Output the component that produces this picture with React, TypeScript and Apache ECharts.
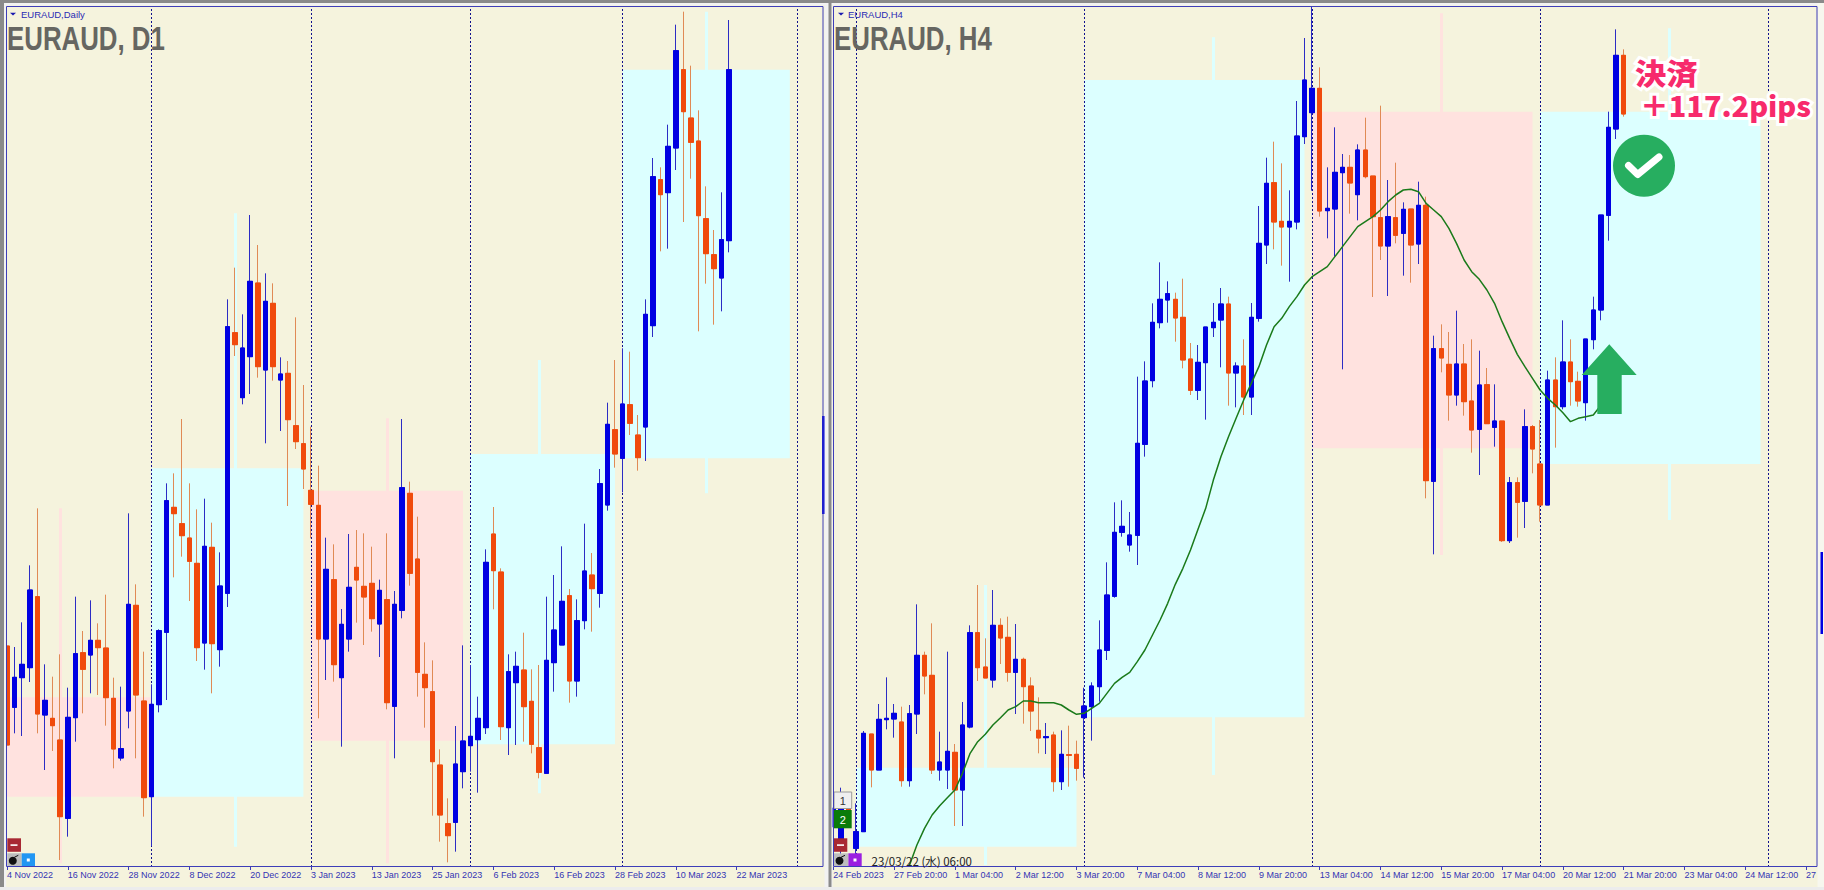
import React, { useEffect, useRef } from "react";
import * as echarts from "echarts";

// All prices are chart points above the lower edge of the window (no price scale is shown in the reference).
type Candle = [number, number, number, number]; // open, close, low, high

const d1TickLabels = ["4 Nov 2022","16 Nov 2022","28 Nov 2022","8 Dec 2022","20 Dec 2022","3 Jan 2023","13 Jan 2023","25 Jan 2023","6 Feb 2023","16 Feb 2023","28 Feb 2023","10 Mar 2023","22 Mar 2023"];
const h4TickLabels = ["24 Feb 2023","27 Feb 20:00","1 Mar 04:00","2 Mar 12:00","3 Mar 20:00","7 Mar 04:00","8 Mar 12:00","9 Mar 20:00","13 Mar 04:00","14 Mar 12:00","15 Mar 20:00","17 Mar 04:00","20 Mar 12:00","21 Mar 20:00","23 Mar 04:00","24 Mar 12:00","27 Mar 20:00"];

const d1Candles: Candle[] = [
[663,366,86,716],[479,569,401,660],[568,608,393,734],[598,831,555,905],[811,459,401,1076],[456,500,291,608],[446,424,348,571],[381,151,21,638],[146,449,91,538],[448,640,376,811],
[643,593,461,708],[636,680,521,800],[680,658,516,731],[657,508,424,817],[506,354,296,568],[327,355,319,541],[468,788,416,1061],[785,516,326,848],[498,208,151,646],[211,488,63,548],
[487,709,464,713],[704,1099,501,1151],[1079,1060,869,1181],[1030,994,931,1344],[987,917,798,1151],[911,658,618,1073],[672,962,592,1105],[959,670,521,1033],[652,843,601,944],[821,1621,780,1703],
[1603,1567,1533,1798],[1408,1557,1388,1658],[1531,1757,1419,1956],[1752,1501,1468,1866],[1491,1697,1271,1781],[1691,1501,1459,1751],[1461,1479,1308,1529],[1481,1342,1083,1518],[1324,1276,1254,1649],[1270,1194,1134,1446],
[1130,1088,986,1321],[1085,684,446,1204],[684,893,561,988],[862,607,556,968],[568,728,361,774],[684,839,646,999],[899,861,733,1011],[842,810,666,1001],[851,745,706,961],[729,830,630,862],
[802,493,473,1001],[482,788,326,828],[770,1138,746,1344],[1121,881,844,1156],[924,584,511,1051],[578,538,418,674],[526,316,154,620],[306,156,76,353],[130,94,14,206],[134,309,46,423],
[286,378,236,665],[364,392,286,606],[382,446,223,511],[418,914,399,953],[999,889,773,1080],[885,421,381,896],[418,586,336,638],[553,602,366,646],[591,481,376,703],[497,368,341,593],
[358,284,266,606],[281,620,281,811],[613,711,526,876],[666,797,666,962],[814,558,493,834],[558,739,511,803],[739,888,713,1030],[876,835,706,942],[821,1150,778,1194],[1086,1328,1069,1393],
[1312,1239,1198,1521],[1226,1389,1124,1556],[1387,1331,1296,1546],[1296,1228,1189,1356],[1320,1658,1218,1703],[1624,2071,1590,2127],[2062,2017,1847,2099],[2023,2162,1855,2227],[2157,2449,2091,2527],[2392,2266,1935,2566],
[2247,2174,2065,2404],[2178,1954,1607,2270],[1945,1840,1750,2042],[1837,1795,1627,1911],[1767,1882,1667,2024],[1879,2392,1844,2541],
];

const h4Candles: Candle[] = [
[121,176,88,221],[51,206,6,238],[206,136,121,221],[56,106,4,191],[106,401,106,408],[399,291,239,399],[291,443,291,489],[442,446,413,569],[444,461,388,489],[435,259,241,481],
[259,460,241,486],[459,635,399,788],[635,573,518,646],[575,291,279,731],[291,315,259,406],[291,347,234,646],[344,231,123,369],[231,426,123,495],[420,703,416,725],[703,598,558,846],
[600,567,567,686],[561,725,538,831],[725,687,609,746],[689,584,556,751],[584,623,459,729],[623,541,430,628],[543,468,408,569],[410,387,341,509],[388,391,339,432],[396,256,226,406],
[256,338,231,410],[337,335,241,424],[338,296,259,379],[448,483,268,538],[481,543,379,554],[541,651,496,740],[650,816,621,914],[812,1004,808,1094],[1004,1022,991,1100],[966,996,946,1065],
[995,1271,906,1471],[1268,1458,1231,1517],[1459,1634,1439,1691],[1633,1703,1616,1814],[1701,1720,1633,1757],[1703,1647,1576,1723],[1649,1521,1496,1765],[1524,1430,1416,1572],[1430,1514,1401,1566],[1513,1620,1342,1620],
[1618,1634,1590,1692],[1641,1689,1499,1737],[1689,1482,1384,1711],[1482,1503,1379,1514],[1503,1410,1356,1583],[1410,1649,1356,1692],[1646,1871,1636,1983],[1866,2051,1809,2128],[2053,1935,1853,2176],[1937,1920,1804,2111],
[1920,1937,1756,2030],[1935,2193,1913,2298],[2191,2361,2169,2487],[2263,2336,2029,2581],[2336,1968,1951,2399],[1969,1976,1886,2099],[1974,2084,1831,2219],[2083,2099,1493,2139],[2099,2052,1960,2136],[2017,2151,1940,2168],
[2151,2071,2066,2248],[2073,1951,1710,2073],[1948,1863,1821,2284],[1863,1951,1713,2061],[1948,1895,1871,2113],[1901,1973,1774,1994],[1974,1866,1753,1974],[1869,1985,1809,2056],[1985,1159,1106,2011],[1157,1555,938,1594],
[1555,1527,1484,1628],[1508,1416,1339,1605],[1416,1509,1384,1669],[1509,1396,1354,1569],[1398,1311,1243,1583],[1313,1446,1176,1549],[1447,1330,1330,1497],[1319,1338,1261,1448],[1338,979,975,1338],[979,1153,972,1170],
[1153,1094,988,1169],[1097,1321,1017,1373],[1321,1254,1181,1326],[1209,1086,1036,1341],[1086,1461,1086,1489],[1461,1381,1258,1529],[1381,1515,1373,1640],[1515,1456,1384,1583],[1457,1398,1381,1486],[1393,1584,1339,1584],
[1582,1671,1553,1711],[1671,1956,1640,1956],[1955,2219,1879,2266],[2214,2435,2184,2513],[2435,2259,2251,2453],
];

const h4Ma: (number | null)[] = [
null,null,null,null,null,null,null,null,null,null,
4,66,116,156,184,208,231,281,341,376,
398,426,448,471,481,498,498,493,493,493,
486,471,458,461,476,491,521,551,569,584,
616,651,696,741,791,848,896,951,1014,1076,
1160,1231,1291,1346,1401,1451,1501,1566,1621,1646,
1681,1711,1746,1771,1786,1801,1831,1861,1891,1921,
1936,1951,1971,1996,2016,2031,2033,2026,1991,1971,
1951,1916,1871,1821,1786,1763,1731,1691,1636,1586,
1538,1501,1466,1431,1406,1386,1363,1336,1346,1351,
1356,1385,
];

// Period separators (bar index)
const d1Separators = [19, 40, 61, 81, 104];
const h4Separators = [3, 33, 63, 93, 123];

// Higher time-frame candles behind the price: bar span, body, wick
const d1BlockStart = [0, 19, 40, 61, 81];
const d1BlockEnd = [19, 39, 60, 80, 103];
const d1BlockLow = [211, 211, 379, 368, 1226];
const d1BlockHigh = [509, 1196, 1129, 1239, 2392];
const d1BlockWickAt = [7, 30, 50, 70, 92];
const d1BlockWickLow = [11, 61, 11, 221, 1121];
const d1BlockWickHigh = [1076, 1961, 1346, 1521, 2566];
const d1BlockRising = [false, true, false, true, true];

const h4BlockStart = [3, 33, 63, 93];
const h4BlockEnd = [32, 62, 92, 122];
const h4BlockLow = [61, 449, 1256, 1209];
const h4BlockHigh = [298, 2361, 2266, 2266];
const h4BlockWickAt = [20, 50, 80, 110];
const h4BlockWickLow = [6, 276, 936, 1041];
const h4BlockWickHigh = [846, 2489, 2561, 2516];
const h4BlockRising = [true, true, false, true];

const CREAM = "#f5f3dd";
const CYAN = "#dcffff";
const PINK = "#ffe2df";
const BLUE = "#0000e2";
const ORANGE = "#f04a0c";
const BLUE_WICK = "#2c2cc4";
const ORANGE_WICK = "#e08a55";
const FRAME = "#3d3db8";
const STEP = 7.6;
const Y_MAX = 2580;
const D1_SLOTS = 108;
const H4_SLOTS = 130;

function categories(slots: number, labels: string[]) {
  return Array.from({ length: slots }, (_, i) => (i % 8 === 0 && labels[i / 8] ? labels[i / 8] : `#${i}`));
}

function makeXAxis(gridIndex: number, slots: number, labels: string[]) {
  const last = (labels.length - 1) * 8;
  const show = (i: number) => i % 8 === 0 && i <= last;
  return {
    type: "category" as const,
    gridIndex,
    data: categories(slots, labels),
    boundaryGap: false,
    axisLine: { show: false },
    axisTick: { show: true, length: 3, interval: show, lineStyle: { color: FRAME, width: 1 } },
    axisLabel: {
      show: true,
      interval: show,
      margin: 3,
      align: "left" as const,
      fontFamily: "Liberation Sans",
      fontSize: 9,
      color: "#3434b4",
    },
    splitLine: { show: false },
  };
}

function makeYAxis(gridIndex: number) {
  return { type: "value" as const, gridIndex, min: 0, max: Y_MAX, show: false, splitLine: { show: false } };
}

function backdropSeries(
  axis: number,
  start: number[],
  end: number[],
  low: number[],
  high: number[],
  wickAt: number[],
  wickLow: number[],
  wickHigh: number[],
  rising: boolean[],
) {
  const tone = (k: number) => (rising[k] ? CYAN : PINK);
  return {
    type: "line" as const,
    xAxisIndex: axis,
    yAxisIndex: axis,
    data: [],
    silent: true,
    z: 1,
    markArea: {
      silent: true,
      z: 1,
      emphasis: { disabled: true },
      label: { show: false },
      data: start.map((s, k) => [
        { coord: [s, low[k]], itemStyle: { color: tone(k), opacity: 1 } },
        { coord: [end[k], high[k]] },
      ]),
    },
    markLine: {
      silent: true,
      z: 1,
      symbol: "none",
      label: { show: false },
      emphasis: { disabled: true },
      data: wickAt.map((x, k) => [
        { coord: [x, wickLow[k]], lineStyle: { color: tone(k), width: 3, type: "solid", opacity: 1 } },
        { coord: [x, wickHigh[k]] },
      ]),
    },
  };
}

function separatorSeries(axis: number, positions: number[]) {
  return {
    type: "line" as const,
    xAxisIndex: axis,
    yAxisIndex: axis,
    data: [],
    silent: true,
    z: 2,
    markLine: {
      silent: true,
      z: 2,
      symbol: "none",
      label: { show: false },
      emphasis: { disabled: true },
      lineStyle: { color: "#10108c", width: 1, type: [2, 2], opacity: 1 },
      data: positions.map((x) => ({ xAxis: x })),
    },
  };
}

function candleSeries(axis: number, candles: Candle[]) {
  const bodies = candles.map(([o, c]) => [o, c, Math.min(o, c), Math.max(o, c)]);
  const base = {
    type: "candlestick" as const,
    xAxisIndex: axis,
    yAxisIndex: axis,
    barWidth: 5,
    silent: true,
    clip: true,
    emphasis: { disabled: true },
  };
  return [
    {
      ...base,
      z: 3,
      data: candles,
      itemStyle: {
        color: BLUE,
        color0: ORANGE,
        borderColor: BLUE_WICK,
        borderColor0: ORANGE_WICK,
        borderColorDoji: ORANGE_WICK,
        borderWidth: 1,
      },
    },
    {
      ...base,
      z: 4,
      data: bodies,
      itemStyle: { color: BLUE, color0: ORANGE, borderColor: BLUE, borderColor0: ORANGE, borderWidth: 1 },
    },
  ];
}

function square(x: number, y: number, w: number, h: number, fill: string, extra: object = {}) {
  return { type: "rect", z: 100, shape: { x, y, width: w, height: h }, style: { fill }, silent: true, ...extra };
}

function label(x: number, y: number, text: string, style: object, extra: object = {}) {
  return { type: "text", z: 110, x, y, silent: true, style: { text, textVerticalAlign: "middle", ...style }, ...extra };
}

function bomb(x: number, y: number) {
  return [
    square(x, y, 14.4, 13, "#bdbdbd"),
    { type: "circle", z: 105, silent: true, shape: { cx: x + 5.5, cy: y + 7.5, r: 4 }, style: { fill: "#111" } },
    { type: "line", z: 105, silent: true, shape: { x1: x + 7, y1: y + 4, x2: x + 11, y2: y + 2 }, style: { stroke: "#111", lineWidth: 1 } },
  ];
}

function chrome() {
  const titleStyle = { fontFamily: "Liberation Sans", fontWeight: "bold", fontSize: 34, fill: "#666661" };
  const smallStyle = { fontFamily: "Liberation Sans", fontSize: 9.5, fill: "#2a2ab4" };
  const callout = {
    fontFamily: "Noto Sans CJK JP",
    fontWeight: 900,
    fill: "#f72a6c",
    stroke: "#ffffff",
    lineWidth: 6,
    shadowBlur: 4,
    shadowColor: "rgba(0,0,0,0.35)",
    shadowOffsetX: 1,
    shadowOffsetY: 2,
  };
  return [
    // window chrome
    square(0, 0, 1824, 3, "#8a8a8a"),
    square(3, 3, 1821, 2.5, "#f2f2f2"),
    square(0, 0, 4, 890, "#8a8a8a"),
    square(4, 3, 2.2, 887, "#f2f2f2"),
    square(824.5, 3, 8, 887, "#f2f2f2"),
    square(828.5, 3, 3, 887, "#8a8a8a"),
    square(1817.5, 3, 6.5, 887, "#f7f7ee"),
    square(0, 887, 1824, 3, "#ececec"),
    // frames
    { type: "rect", z: 101, silent: true, shape: { x: 6.5, y: 6.5, width: 816.5, height: 860 }, style: { fill: "none", stroke: FRAME, lineWidth: 1 } },
    { type: "rect", z: 101, silent: true, shape: { x: 833.5, y: 6.5, width: 983.5, height: 860 }, style: { fill: "none", stroke: FRAME, lineWidth: 1 } },
    // stray bars on the window edges
    square(822, 416, 2.5, 98, BLUE),
    square(1820.5, 552, 2.5, 82, BLUE),
    // titles
    label(7, 38, "EURAUD, D1", titleStyle, { scaleX: 0.76 }),
    label(834, 38, "EURAUD, H4", titleStyle, { scaleX: 0.76 }),
    { type: "polygon", z: 105, silent: true, shape: { points: [[10, 12.7], [16, 12.7], [13, 15.6]] }, style: { fill: "#1a1ab0" } },
    label(21, 14, "EURAUD,Daily", smallStyle),
    { type: "polygon", z: 105, silent: true, shape: { points: [[838, 12.7], [844, 12.7], [841, 15.6]] }, style: { fill: "#1a1ab0" } },
    label(848, 14, "EURAUD,H4", smallStyle),
    // left buttons
    square(7.3, 838.3, 13.7, 13.5, "#a82833"),
    square(10.5, 844.3, 7, 1.6, "#ffffff"),
    ...bomb(7.3, 853.3),
    square(21.7, 853.3, 13.3, 13, "#2196f3"),
    square(26.8, 858.5, 3, 3, "#ffffff"),
    // right buttons
    { type: "rect", z: 100, silent: true, shape: { x: 834, y: 792, width: 17.7, height: 16.5 }, style: { fill: "#efefef", stroke: "#9a9a9a", lineWidth: 1 } },
    label(842.8, 800.5, "1", { fontFamily: "Liberation Sans", fontSize: 11, fill: "#333", textAlign: "center" }),
    square(834, 810, 17.7, 18.3, "#0a7c0a"),
    label(842.8, 819.5, "2", { fontFamily: "Liberation Sans", fontSize: 11, fill: "#fff", textAlign: "center" }),
    square(834, 838.3, 13.3, 13.5, "#a82833"),
    square(837, 844.3, 7, 1.6, "#ffffff"),
    ...bomb(834, 853.3),
    square(848.4, 853.3, 13.3, 13, "#9b1fe0"),
    square(853.5, 858.5, 3, 3, "#ffffff"),
    label(871.5, 860.5, "23/03/22 (水) 06:00", { fontFamily: "Noto Sans CJK JP", fontSize: 11.5, fill: "#222" }),
    // entry arrow
    {
      type: "polygon",
      z: 102,
      silent: true,
      shape: { points: [[1609.3, 344.3], [1636.7, 375], [1621.7, 375], [1621.7, 414], [1597.3, 414], [1597.3, 375], [1581.7, 375]] },
      style: { fill: "#27ae60" },
    },
    // exit mark
    { type: "circle", z: 102, silent: true, shape: { cx: 1644, cy: 165.7, r: 31 }, style: { fill: "#27ae60" } },
    {
      type: "polyline",
      z: 103,
      silent: true,
      shape: { points: [[1628.5, 165.5], [1637.7, 174.5], [1659, 157]] },
      style: { stroke: "#ffffff", lineWidth: 7, lineCap: "round", lineJoin: "round", fill: "none" },
    },
    label(1635, 73, "決済", { ...callout, fontSize: 29 }, { scaleX: 1.08 }),
    label(1640, 105, "＋117.2pips", { ...callout, fontSize: 28 }, { scaleX: 1.03 }),
  ];
}

export default function App() {
  const ref = useRef<HTMLDivElement>(null);

  useEffect(() => {
    document.body.style.margin = "0";
    if (!ref.current) return;
    const chart = echarts.init(ref.current, undefined, { renderer: "svg" });
    chart.setOption({
      animation: false,
      backgroundColor: CREAM,
      tooltip: { show: false },
      legend: { show: false },
      grid: [
        { left: 7, top: 7, width: STEP * (D1_SLOTS - 1), height: 860, show: false, outerBoundsMode: "none" },
        { left: 833.3, top: 7, width: STEP * (H4_SLOTS - 1), height: 860, show: false, outerBoundsMode: "none" },
      ],
      xAxis: [makeXAxis(0, D1_SLOTS, d1TickLabels), makeXAxis(1, H4_SLOTS, h4TickLabels)],
      yAxis: [makeYAxis(0), makeYAxis(1)],
      series: [
        backdropSeries(0, d1BlockStart, d1BlockEnd, d1BlockLow, d1BlockHigh, d1BlockWickAt, d1BlockWickLow, d1BlockWickHigh, d1BlockRising),
        separatorSeries(0, d1Separators),
        ...candleSeries(0, d1Candles),
        backdropSeries(1, h4BlockStart, h4BlockEnd, h4BlockLow, h4BlockHigh, h4BlockWickAt, h4BlockWickLow, h4BlockWickHigh, h4BlockRising),
        separatorSeries(1, h4Separators),
        ...candleSeries(1, h4Candles),
        {
          type: "line",
          xAxisIndex: 1,
          yAxisIndex: 1,
          data: h4Ma,
          showSymbol: false,
          silent: true,
          z: 5,
          smooth: false,
          lineStyle: { color: "#1a7a1a", width: 1.5 },
          emphasis: { disabled: true },
        },
      ],
      graphic: { elements: chrome() },
    });
    return () => chart.dispose();
  }, []);

  return <div ref={ref} style={{ position: "absolute", left: 0, top: 0, width: 1824, height: 890 }} />;
}
